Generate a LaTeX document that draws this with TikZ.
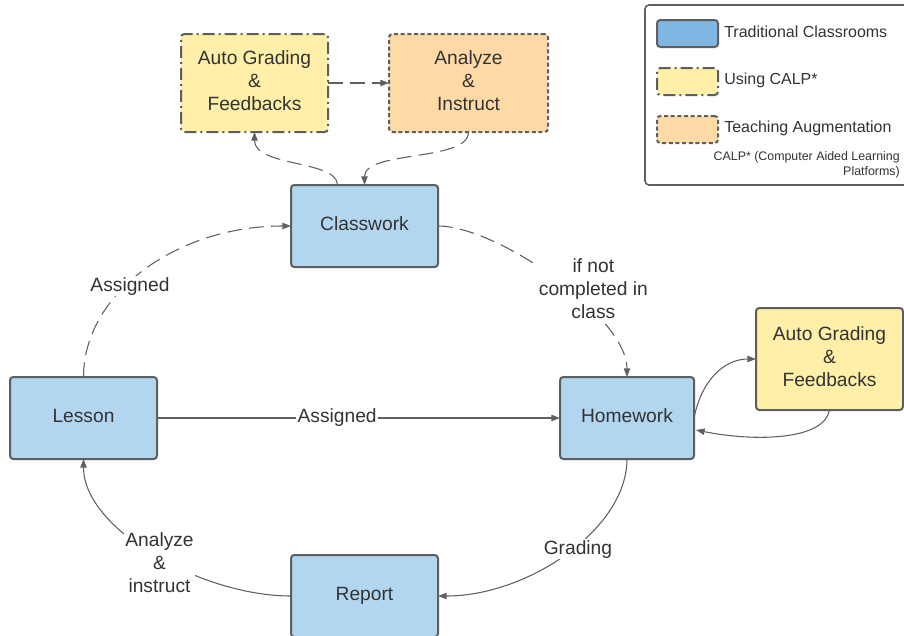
\documentclass[tikz,border=0pt]{standalone}
\usepackage{fontspec}
\setmainfont{Liberation Sans}
\usetikzlibrary{arrows.meta,calc}
\definecolor{boxblue}{HTML}{B2D6F0}
\definecolor{keyblue}{HTML}{7FB6E2}
\definecolor{calpyellow}{HTML}{FFEFA8}
\definecolor{augorange}{HTML}{FFDAA6}
\definecolor{edgegray}{HTML}{5E5E5E}
\definecolor{linegray}{HTML}{606060}
\definecolor{inkgray}{HTML}{333333}
\tikzset{
  box/.style={draw=edgegray, line width=1.5pt, rounded corners=2.5pt, align=center,
    inner sep=0pt, outer sep=0pt, text=inkgray, text depth=4pt,
    font=\fontsize{14.4}{17.25}\selectfont},
  classic/.style={box, fill=boxblue},
  calp/.style={box, fill=calpyellow},
  calpdash/.style={calp, dash pattern=on 9pt off 3pt on 1.5pt off 3pt},
  augment/.style={box, fill=augorange, dash pattern=on 3pt off 2pt},
  wide/.style={minimum width=110.25pt, minimum height=61.5pt},
  swatch/.style={box, minimum width=45.75pt, minimum height=20.25pt},
  link/.style={draw=linegray, line width=0.8pt,
    -{Triangle[length=6.5pt,width=4.8pt]}, fill=none},
  dashlink/.style={link, dash pattern=on 11pt off 5.5pt},
  lbl/.style={fill=white, inner sep=1pt, text=inkgray, align=center,
    font=\fontsize{14.4}{17.25}\selectfont},
  keytext/.style={anchor=west, inner sep=0pt, text=inkgray,
    font=\fontsize{12}{14}\selectfont},
}
\begin{document}
\begin{tikzpicture}[x=0.75pt, y=-0.75pt]
\useasboundingbox (0,0) rectangle (904,636);

% legend
\draw[draw=edgegray, line width=1.2pt, rounded corners=3pt, fill=white]
  (645,5) rectangle (912,185);
\node[swatch, fill=keyblue] (k1) at (687.5,33.5) {};
\node[swatch, fill=calpyellow, dash pattern=on 9pt off 3pt on 1.5pt off 3pt] (k2) at (687.5,81.5) {};
\node[swatch, fill=augorange, dash pattern=on 3pt off 2pt] (k3) at (687.5,129.5) {};
\node[keytext] (t1) at (724,32) {Traditional Classrooms};
\node[keytext] (t2) at (724,80) {Using CALP*};
\node[keytext] (t3) at (724,128) {Teaching Augmentation};
\node[anchor=east, inner sep=0pt, align=right, text=inkgray,
  font=\fontsize{9.3}{11.25}\selectfont] (note) at (900,164.5)
  {CALP* (Computer Aided Learning\\Platforms)};

% process boxes
\node[calpdash, minimum width=110.25pt, minimum height=73.5pt] (topgrade) at (254.5,83)
  {Auto Grading\\\&\\Feedbacks};
\node[augment, minimum width=119.25pt, minimum height=73.5pt] (analyze) at (468.5,83)
  {Analyze\\\&\\Instruct};
\node[classic, wide] (classwork) at (364.5,226) {Classwork};
\node[classic, wide, text depth=2.5pt] (lesson) at (83.5,418) {Lesson};
\node[classic, minimum width=100.5pt, minimum height=61.5pt, text depth=3pt] (homework) at (627,418) {Homework};
\node[calp, minimum width=110.25pt, minimum height=76.5pt] (hwgrade) at (829.5,359)
  {Auto Grading\\\&\\Feedbacks};
\node[classic, wide, text depth=2.5pt] (report) at (364.5,596) {Report};

% connectors
\draw[dashlink] (lesson.north) .. controls +(0,-83) and +(-115,0) .. (classwork.west)
  node[lbl, pos=0.41, xshift=3.5pt] {Assigned};
\draw[dashlink] (classwork.east) .. controls +(60,0) and +(0,-60) .. (homework.north)
  node[lbl, pos=0.55, xshift=20pt] {if not\\completed in\\class};
\draw[link] (lesson.east) -- (homework.west) node[lbl, pos=0.447] {Assigned};
\draw[link] (homework.east) .. controls +(8,-40) and +(-30,0) .. (hwgrade.west);
\draw[link] (hwgrade.south) .. controls +(-5,30) and +(60,12) .. ($(homework.east)+(2,12)$);
\draw[link] (homework.south) .. controls +(0,70) and +(90,0) .. (report.east)
  node[lbl, pos=0.47, xshift=4pt] {Grading};
\draw[link] (report.west) .. controls +(-90,0) and +(0,70) .. (lesson.south)
  node[lbl, pos=0.5, xshift=4.5pt, yshift=-7pt] {Analyze\\\&\\instruct};
\draw[dashlink] ($(classwork.north)+(-27,0)$) .. controls +(0,-25) and +(0,35) .. (topgrade.south);
\draw[dashlink] (analyze.south) .. controls +(0,30) and +(0,-35) .. (classwork.north);
\draw[dashlink] (topgrade.east) -- (analyze.west);
\end{tikzpicture}
\end{document}
